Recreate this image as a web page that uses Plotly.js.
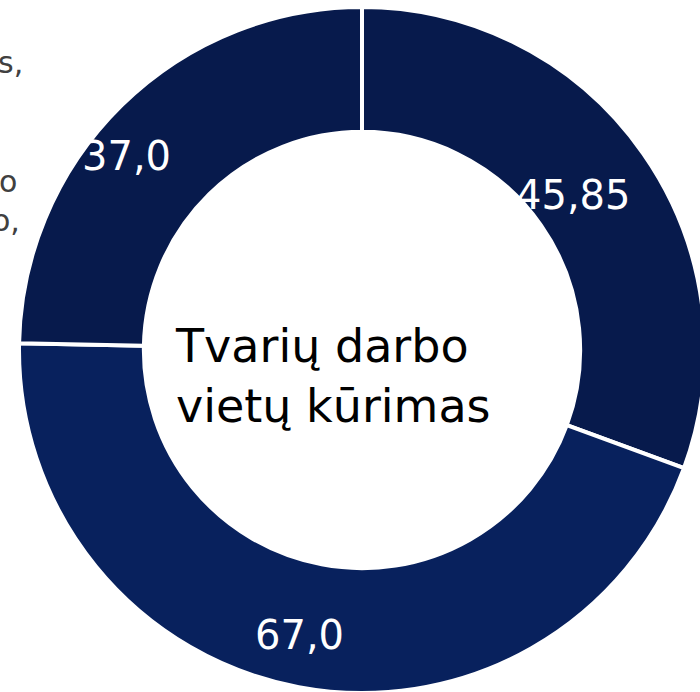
<!DOCTYPE html>
<html>
<head>
<meta charset="utf-8">
<script src="https://cdn.plot.ly/plotly-3.0.1.min.js"></script>
<style>
html, body { margin: 0; padding: 0; overflow: hidden; background: #fff; }
#chart { width: 724px; height: 694px; }
</style>
</head>
<body>
<div id="chart"></div>
<script>
// Data
const categories = ['Segmentas A', 'Segmentas B', 'Segmentas C'];
const values = [45.85, 67.0, 37.0];
const valueLabels = ['45,85', '67,0', '37,0'];
const sliceColors = ['#071a4c', '#08215d', '#071a4c'];
const centerTitle = 'Tvarių darbo<br>vietų kūrimas';
const sideFragments = ['s,', 'o', 'o,'];

const W = 724, H = 694, mt = 7, mb = 1;
const px = x => x / W;
const py = y => (H - mb - y) / (H - mt - mb);
const CX = W / 2, CY = mt + (H - mt - mb) / 2, R = (H - mt - mb) / 2;

const trace = {
  type: 'pie',
  labels: categories,
  values: values,
  textinfo: 'none',
  sort: false,
  direction: 'clockwise',
  rotation: 0,
  hole: 0.636,
  marker: { colors: sliceColors, line: { color: '#ffffff', width: 4 } },
  hoverinfo: 'none',
  showlegend: false
};

// data label placement (Excel-like best fit inside the ring)
const labelRadius = [0.765, 0.848, 0.892];  // fraction of outer radius
const labelAngleShift = [-1.5, 1.8, -6];    // degrees from slice mid-angle
const total = values.reduce((a, b) => a + b, 0);
let cum = 0;
const labelAnns = values.map((v, i) => {
  const mid = (cum + v / 2) / total * 360 + labelAngleShift[i];
  cum += v;
  const th = mid * Math.PI / 180;
  const x = CX + labelRadius[i] * R * Math.sin(th);
  const y = CY - labelRadius[i] * R * Math.cos(th);
  return {
    text: valueLabels[i], x: px(x), y: py(y + 1), xref: 'paper', yref: 'paper',
    xanchor: 'center', yanchor: 'middle', showarrow: false,
    font: { family: 'DejaVu Sans', size: 40, color: '#ffffff' }
  };
});

const fragPos = [[25, 63], [19, 182], [22, 220]];
const annotations = [
  {
    text: centerTitle, x: px(173), y: py(376), xref: 'paper', yref: 'paper',
    xanchor: 'left', yanchor: 'middle', align: 'left', showarrow: false,
    font: { family: 'DejaVu Sans', size: 46, color: '#000000' }
  }
].concat(sideFragments.map((t, i) => ({
  text: t, x: px(fragPos[i][0]), y: py(fragPos[i][1]), xref: 'paper', yref: 'paper',
  xanchor: 'right', yanchor: 'middle', showarrow: false,
  font: { family: 'DejaVu Sans', size: 30, color: '#404040' }
}))).concat(labelAnns);

const layout = {
  width: W, height: H,
  margin: { l: 0, r: 0, t: mt, b: mb, pad: 0 },
  paper_bgcolor: '#ffffff',
  plot_bgcolor: '#ffffff',
  showlegend: false,
  annotations: annotations
};

Plotly.newPlot('chart', [trace], layout, { displayModeBar: false, staticPlot: true });
</script>
</body>
</html>
